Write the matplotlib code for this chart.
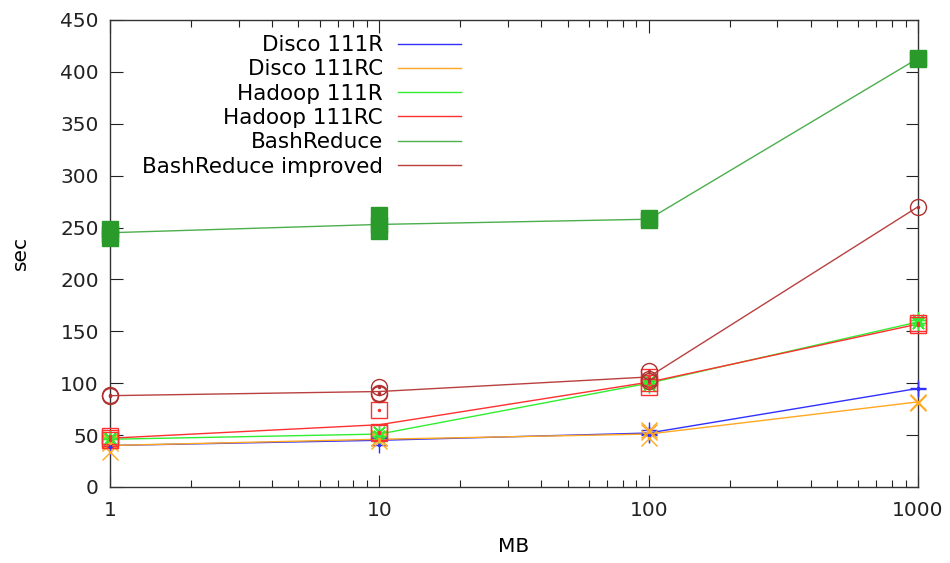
import matplotlib
matplotlib.use("Agg")
import matplotlib.pyplot as plt
import numpy as np

sizes = [1, 10, 100, 1000]

# line values (average per size)
disco_r = [40, 45, 52, 95]
disco_rc = [40, 46, 51, 82]
hadoop_r = [46, 51, 100, 159]
hadoop_rc = [47, 60, 101, 157]
bash = [245, 253, 258, 413]
bash_imp = [88, 92, 106, 270]

# individual measurements
disco_r_pts = [[40, 39], [40, 47, 48], [55, 50, 51], [94, 95]]
disco_rc_pts = [[34, 42, 44], [44, 47, 47], [47, 53, 55], [81, 82]]
hadoop_r_pts = [[47, 46], [53, 49], [100, 98, 102], [161, 158]]
hadoop_rc_pts = [[47, 45, 49], [74, 53, 52], [96, 100, 106], [158, 156]]
bash_pts = [[240, 244, 249], [247, 252, 262], [257, 259], [412, 413]]
bash_imp_pts = [[88, 89], [96, 90, 91], [112, 104, 102], [270]]

labels = ["Disco 111R", "Disco 111RC", "Hadoop 111R", "Hadoop 111RC",
          "BashReduce", "BashReduce improved"]

series = [
    (disco_r, disco_r_pts, "#3030ff", "#3030ff", "+", dict()),
    (disco_rc, disco_rc_pts, "#ffa820", "#ffa820", "x", dict()),
    (hadoop_r, hadoop_r_pts, "#30ee30", "#30ee30", (8, 2, 0), dict()),
    (hadoop_rc, hadoop_rc_pts, "#ff3030", "#ff3030", "s", dict(mfc="none")),
    (bash, bash_pts, "#4cae4c", "#2a9a2a", "s", dict()),
    (bash_imp, bash_imp_pts, "#b84040", "#b03030", "o", dict(mfc="none")),
]

fig = plt.figure(figsize=(9.5, 5.63), dpi=100)
ax = fig.add_axes([0.1158, 0.135, 0.8505, 0.8295])

for (line, pts, lcolor, color, marker, kw), label in zip(series, labels):
    ax.plot(sizes, line, color=lcolor, lw=1.0, label=label, zorder=3,
            clip_on=False)
    xs = [s for s, p in zip(sizes, pts) for _ in p]
    ys = [v for p in pts for v in p]
    ax.plot(xs, ys, linestyle="none", marker=marker, color=color, ms=11.5,
            mew=1.0, zorder=4, clip_on=False, **kw)
    ax.plot(xs, ys, linestyle="none", marker=".", color=color, ms=3,
            zorder=5, clip_on=False)

ax.set_xscale("log")
ax.set_xlim(1, 1000)
ax.set_ylim(0, 450)
ax.set_yticks(np.arange(0, 451, 50))
ax.set_xticks(sizes)
ax.set_xticklabels(["1", "10", "100", "1000"])

ax.tick_params(which="both", direction="in", top=True, right=True,
               labelsize=14.5, colors="#222222")
ax.tick_params(which="major", length=9, width=0.8, pad=10)
ax.tick_params(which="minor", length=5, width=0.8)
ax.tick_params(axis="y", pad=8)
for sp in ax.spines.values():
    sp.set_linewidth(1.0)
    sp.set_color("#333333")

ax.set_xlabel("MB", fontsize=14.5, labelpad=12)
ax.set_ylabel("sec", fontsize=14.5, labelpad=22)

leg = ax.legend(loc="upper left", bbox_to_anchor=(0.021, 1.0), frameon=False,
                markerfirst=False, fontsize=15.5, handlelength=2.9,
                labelspacing=0.2, handletextpad=0.7, borderaxespad=0.3)

fig.savefig("out.png", dpi=100)
